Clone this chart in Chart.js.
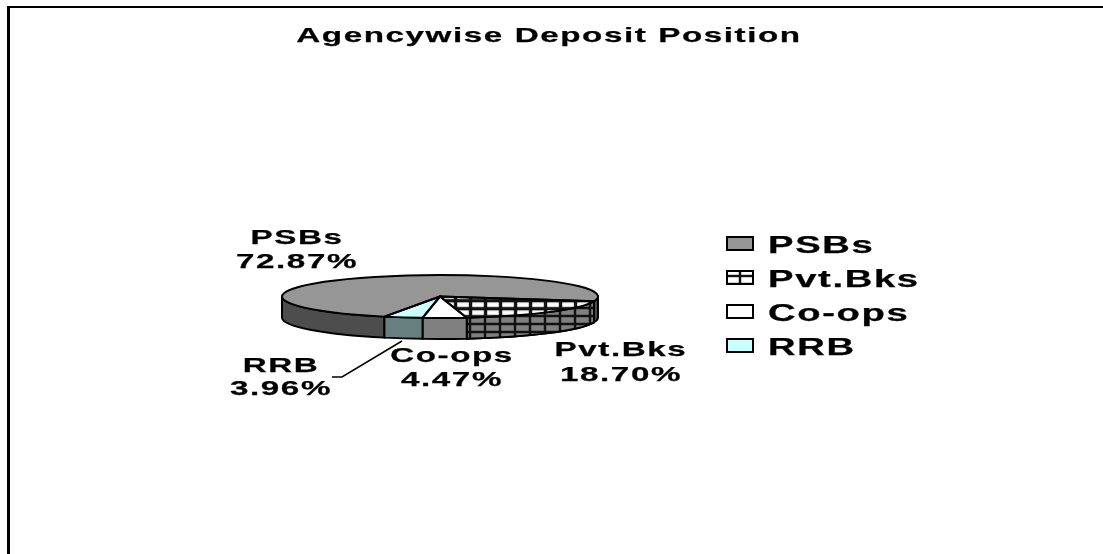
<!DOCTYPE html>
<html>
<head>
<meta charset="utf-8">
<title>Agencywise Deposit Position</title>
<script src="https://cdn.jsdelivr.net/npm/chart.js@4/dist/chart.umd.min.js"></script>
<style>
  html, body { margin: 0; padding: 0; background: #fff; overflow: hidden; }
  canvas { display: block; filter: blur(0.45px); }
</style>
</head>
<body>
<canvas id="pie" width="1103" height="554"></canvas>
<script>
const chartTitle = 'Agencywise Deposit Position';
const categories = ['PSBs', 'Pvt.Bks', 'Co-ops', 'RRB'];
const shares = [72.87, 18.70, 4.47, 3.96];

const topColors = ['#969696', '#ffffff', '#ffffff', '#ccffff'];
const sideColors = ['#4d4d4d', '#808080', '#808080', '#668080'];

const squash = 21.5 / 158; // the tilt of the pie
const depth = 21;
const stretch = 1.58; // text in the picture is pulled wide

// slice label spots: center x, baseline of name, baseline of value
const labelSpots = [[297, 244, 268], [621, 356, 381], [452, 362, 386], [281, 372, 395]];
const legendRows = [253, 287, 321, 355];

function gridTile(bg, line) {
  const tile = document.createElement('canvas');
  tile.width = 15;
  tile.height = 8;
  const c = tile.getContext('2d');
  c.fillStyle = bg;
  c.fillRect(0, 0, 15, 8);
  c.fillStyle = 'rgba(0,0,0,0.2)';
  c.fillRect(3, 0, line + 2, 8);
  c.fillRect(0, 2, 15, line + 2);
  c.fillStyle = '#111';
  c.fillRect(4, 0, line, 8);
  c.fillRect(0, 3, 15, line);
  return tile;
}

const ctx = document.getElementById('pie').getContext('2d');

const topHatch = ctx.createPattern(gridTile('#ffffff', 3), 'repeat');
topHatch.setTransform(new DOMMatrix().scale(1, 1 / squash));
const sideHatch = ctx.createPattern(gridTile('#808080', 2), 'repeat');
const legendHatch = ctx.createPattern(gridTile('#ffffff', 2), 'repeat');

function wideText(c, text, x, y, size, xScale, align) {
  c.save();
  c.font = 'bold ' + size + 'px "Liberation Sans"';
  c.letterSpacing = '1px';
  c.fillStyle = '#000';
  c.strokeStyle = '#000';
  c.lineWidth = 0.25;
  c.textAlign = align;
  c.textBaseline = 'alphabetic';
  c.translate(x, y);
  c.scale(xScale, 1);
  c.fillText(text, 0, 0);
  c.strokeText(text, 0, 0);
  c.restore();
}

function sideWall(c, arc, fill) {
  const { x, y, startAngle, endAngle, outerRadius } = arc.getProps(['x', 'y', 'startAngle', 'endAngle', 'outerRadius'], true);
  for (let k = -1; k <= 1; k++) {
    const a = Math.max(startAngle, 2 * Math.PI * k);
    const b = Math.min(endAngle, 2 * Math.PI * k + Math.PI);
    if (a >= b) continue;
    c.beginPath();
    c.ellipse(x, y, outerRadius, outerRadius * squash, 0, a, b);
    c.ellipse(x, y + depth, outerRadius, outerRadius * squash, 0, b, a, true);
    c.closePath();
    c.fillStyle = fill;
    c.fill();
    c.stroke();
  }
}

const pie3d = {
  id: 'pie3d',
  beforeDraw(chart) {
    const c = chart.ctx;
    c.save();
    c.fillStyle = '#000';
    c.fillRect(7, 6, 1096, 2);
    c.fillRect(7, 6, 3, 548);
    c.restore();
  },
  beforeDatasetsDraw(chart) {
    const c = chart.ctx;
    const arcs = chart.getDatasetMeta(0).data;
    c.save();
    c.strokeStyle = '#000';
    c.lineWidth = 2;
    arcs.forEach((arc, i) => {
      sideWall(c, arc, sideColors[i]);
      if (i === 1) sideWall(c, arc, sideHatch);
    });
    c.restore();
    // flatten the round pie that the library draws next
    const { x, y } = arcs[0].getProps(['x', 'y'], true);
    c.save();
    c.translate(x, y);
    c.scale(1, squash);
    c.translate(-x, -y);
  },
  afterDatasetsDraw(chart) {
    const c = chart.ctx;
    c.restore();
    c.save();
    c.strokeStyle = '#000';
    c.lineWidth = 2;
    c.lineJoin = 'round';
    chart.getDatasetMeta(0).data.forEach(arc => {
      const { x, y, startAngle, endAngle, outerRadius } = arc.getProps(['x', 'y', 'startAngle', 'endAngle', 'outerRadius'], true);
      c.beginPath();
      c.moveTo(x, y);
      c.ellipse(x, y, outerRadius, outerRadius * squash, 0, startAngle, endAngle);
      c.closePath();
      c.stroke();
    });
    c.restore();
  },
  afterDraw(chart) {
    const c = chart.ctx;
    wideText(c, chartTitle, 549, 42, 21, stretch, 'center');

    categories.forEach((name, i) => {
      const [cx, nameY, valueY] = labelSpots[i];
      wideText(c, name, cx, nameY, 21, stretch, 'center');
      wideText(c, shares[i].toFixed(2) + '%', cx, valueY, 21, stretch, 'center');
    });

    // leader line of the RRB label
    c.save();
    c.strokeStyle = '#000';
    c.lineWidth = 1.5;
    c.beginPath();
    c.moveTo(402, 341);
    c.lineTo(342, 377);
    c.lineTo(332, 377);
    c.stroke();
    c.restore();

    // legend
    categories.forEach((name, i) => {
      const y = legendRows[i];
      c.save();
      c.fillStyle = i === 1 ? legendHatch : topColors[i];
      c.strokeStyle = '#000';
      c.lineWidth = 2;
      c.fillRect(727, y - 16, 26, 13);
      c.strokeRect(727, y - 16, 26, 13);
      c.restore();
      wideText(c, name, 768, y, 23, 1.66, 'left');
    });
  }
};

new Chart(ctx, {
  type: 'pie',
  data: {
    labels: categories,
    datasets: [{
      data: shares,
      backgroundColor: [topColors[0], topHatch, topColors[2], topColors[3]],
      borderWidth: 0
    }]
  },
  options: {
    responsive: false,
    animation: false,
    rotation: 200.6,
    layout: { padding: { left: 282, right: 505, top: 138.5, bottom: 99.5 } },
    plugins: {
      legend: { display: false },
      title: { display: false, text: chartTitle },
      tooltip: { enabled: false }
    }
  },
  plugins: [pie3d]
});
</script>
</body>
</html>
